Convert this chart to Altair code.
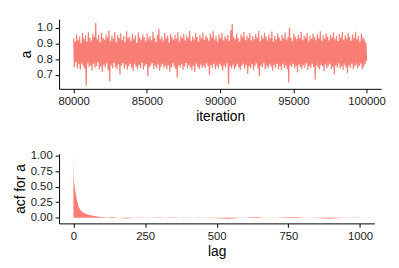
import altair as alt
import numpy as np
import pandas as pd

trace_a = [
    0.934, 0.752, 0.912, 0.781, 0.958, 0.744, 0.921, 0.768, 0.946, 0.735, 0.903, 0.772, 0.967, 0.758, 0.929, 0.741, 0.951, 0.632, 0.914, 0.776,
    0.972, 0.749, 0.938, 0.763, 0.918, 0.728, 0.962, 0.771, 0.943, 0.746, 1.031, 0.757, 0.927, 0.782, 0.955, 0.739, 0.908, 0.754, 0.969, 0.719,
    0.936, 0.766, 0.924, 0.748, 0.957, 0.773, 0.941, 0.731, 0.983, 0.659, 0.916, 0.762, 0.948, 0.744, 0.931, 0.779, 0.974, 0.752, 0.909, 0.738,
    0.953, 0.767, 0.937, 0.702, 0.966, 0.759, 0.922, 0.776, 0.949, 0.742, 0.911, 0.764, 0.978, 0.733, 0.935, 0.758, 0.944, 0.771, 0.918, 0.747,
    0.961, 0.726, 0.929, 0.769, 0.952, 0.753, 0.906, 0.737, 0.971, 0.761, 0.939, 0.745, 0.925, 0.778, 0.958, 0.734, 0.942, 0.756, 0.915, 0.768,
    0.964, 0.691, 0.933, 0.749, 0.949, 0.762, 0.921, 0.775, 0.976, 0.739, 0.938, 0.757, 0.912, 0.744, 0.955, 0.766, 0.994, 0.729, 0.927, 0.752,
    0.946, 0.771, 0.919, 0.743, 0.968, 0.758, 0.934, 0.736, 0.951, 0.763, 0.907, 0.719, 0.963, 0.748, 0.941, 0.774, 0.926, 0.755, 0.957, 0.738,
    0.932, 0.682, 0.973, 0.761, 0.914, 0.746, 0.948, 0.769, 0.936, 0.732, 0.962, 0.754, 0.921, 0.777, 0.954, 0.741, 0.939, 0.763, 0.981, 0.748,
    0.917, 0.733, 0.945, 0.759, 0.928, 0.719, 0.967, 0.772, 0.943, 0.751, 0.913, 0.737, 0.956, 0.766, 0.934, 0.745, 0.971, 0.758, 0.924, 0.743,
    0.952, 0.774, 0.938, 0.756, 0.919, 0.698, 0.965, 0.762, 0.941, 0.747, 0.978, 0.771, 0.926, 0.738, 0.949, 0.759, 0.912, 0.744, 0.959, 0.767,
    0.935, 0.753, 0.968, 0.729, 0.922, 0.761, 0.947, 0.748, 0.931, 0.775, 0.955, 0.642, 0.917, 0.756, 0.986, 0.741, 1.024, 0.763, 0.942, 0.737,
    0.929, 0.752, 0.963, 0.769, 0.937, 0.746, 0.914, 0.734, 0.958, 0.758, 0.944, 0.771, 0.974, 0.739, 0.923, 0.762, 0.951, 0.708, 0.936, 0.754,
    0.966, 0.745, 0.918, 0.768, 0.948, 0.731, 0.927, 0.757, 0.961, 0.773, 0.939, 0.742, 0.982, 0.692, 0.915, 0.761, 0.953, 0.749, 0.932, 0.776,
    0.969, 0.736, 0.945, 0.758, 0.921, 0.744, 0.958, 0.767, 0.936, 0.753, 0.977, 0.728, 0.913, 0.762, 0.949, 0.747, 0.928, 0.771, 0.964, 0.739,
    0.941, 0.756, 0.919, 0.731, 0.955, 0.768, 0.934, 0.745, 0.971, 0.759, 0.926, 0.737, 0.946, 0.653, 1.002, 0.764, 0.938, 0.749, 0.917, 0.772,
    0.962, 0.742, 0.943, 0.757, 0.929, 0.717, 0.957, 0.766, 0.935, 0.751, 0.975, 0.738, 0.921, 0.763, 0.952, 0.746, 0.937, 0.774, 0.968, 0.733,
    0.914, 0.758, 0.948, 0.744, 0.931, 0.769, 0.963, 0.752, 0.942, 0.671, 0.925, 0.761, 0.959, 0.747, 0.936, 0.736, 0.979, 0.764, 0.918, 0.755,
    0.951, 0.724, 0.933, 0.767, 0.966, 0.743, 0.945, 0.758, 0.922, 0.771, 0.957, 0.739, 0.939, 0.753, 0.972, 0.704, 0.927, 0.762, 0.948, 0.747,
    0.916, 0.774, 0.961, 0.741, 0.937, 0.756, 0.974, 0.733, 0.924, 0.765, 0.953, 0.748, 0.934, 0.711, 0.967, 0.759, 0.942, 0.745, 0.919, 0.772,
    0.958, 0.738, 0.936, 0.754, 0.975, 0.766, 0.928, 0.742, 0.949, 0.757, 0.913, 0.774, 0.964, 0.736, 0.941, 0.752, 0.927, 0.768, 0.908, 0.791,
]
iterations = np.linspace(80000, 100000, len(trace_a))

acf_lags = [0, 1, 2, 3, 5, 7, 10, 13, 17, 22, 27, 32, 37, 45, 55, 65, 78, 90, 105, 120, 135, 145,
            160, 180, 200, 220, 240, 260, 280, 300, 320, 340, 360, 380, 400, 420, 440, 460, 480,
            500, 520, 540, 560, 580, 600, 620, 640, 660, 680, 700, 720, 740, 760, 780, 800, 820,
            840, 860, 880, 900, 920, 940, 960, 980, 1000]
acf_vals = [1.0, 0.68, 0.6, 0.55, 0.48, 0.42, 0.35, 0.27, 0.19, 0.14, 0.11, 0.09, 0.075, 0.06, 0.045, 0.035, 0.025, 0.018, 0.01, 0.006, 0.011, 0.008,
            -0.004, -0.012, -0.006, 0.003, 0.006, -0.002, 0.004, 0.008, 0.002, 0.01, 0.004, -0.005, -0.003, 0.002, 0.006, 0.001, -0.004,
            -0.008, -0.012, -0.015, -0.01, -0.003, 0.004, 0.009, 0.012, 0.006, 0.002, -0.002, 0.003, 0.007, 0.011, 0.014, 0.006, 0.001,
            -0.004, -0.009, -0.012, -0.014, -0.009, -0.004, 0.002, 0.005, 0.003]

x_ticks_top = [80000, 85000, 90000, 95000, 100000]
y_ticks_top = [0.7, 0.8, 0.9, 1.0]
x_ticks_bot = [0, 250, 500, 750, 1000]
y_ticks_bot = [0.0, 0.25, 0.5, 0.75, 1.0]

COL = "#F8766D"

df_trace = pd.DataFrame({"iteration": iterations, "a": trace_a})
df_acf = pd.DataFrame({"lag": acf_lags, "acf": acf_vals})

top = alt.Chart(df_trace).mark_line(color=COL, strokeWidth=1.25, opacity=0.95).encode(
    x=alt.X("iteration:Q", title="iteration",
            scale=alt.Scale(domain=[79000, 101000], nice=False, zero=False),
            axis=alt.Axis(values=x_ticks_top, format="d")),
    y=alt.Y("a:Q", title="a",
            scale=alt.Scale(domain=[0.612, 1.056], nice=False, zero=False),
            axis=alt.Axis(values=y_ticks_top, format=".1f")),
).properties(width=328, height=71)

bottom = alt.Chart(df_acf).mark_area(color=COL, opacity=0.95).encode(
    x=alt.X("lag:Q", title="lag",
            scale=alt.Scale(domain=[-50, 1050], nice=False, zero=False),
            axis=alt.Axis(values=x_ticks_bot, format="d")),
    y=alt.Y("acf:Q", title="acf for a",
            scale=alt.Scale(domain=[-0.09, 1.03], nice=False, zero=False),
            axis=alt.Axis(values=y_ticks_bot, format=".2f")),
    y2=alt.datum(0),
).properties(width=321, height=71)

chart = alt.vconcat(top, bottom, spacing=25).properties(
    padding={"left": 5, "top": 9, "right": 5, "bottom": 2}
).configure_view(stroke=None).configure_axis(
    grid=False,
    domainColor="black",
    tickColor="black",
    labelColor="#1a1a1a",
    titleColor="black",
    labelFont="Liberation Sans",
    titleFont="Liberation Sans",
    labelFontSize=11.5,
    titleFontSize=14,
    titleFontWeight="normal",
    tickSize=4,
    labelPadding=3,
    titlePadding=3,
)

chart.save("out.html", embed_options={"renderer": "svg", "actions": False})
